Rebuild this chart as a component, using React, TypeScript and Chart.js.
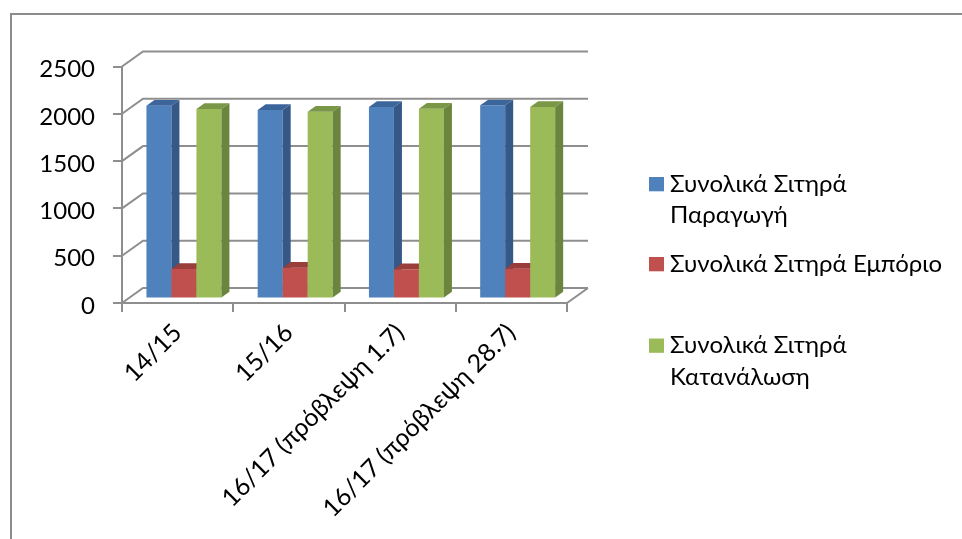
import React, { useEffect, useRef } from "react";
import { Chart, registerables } from "chart.js";

Chart.register(...registerables);

// ---- data ----
const categories = ["14/15", "15/16", "16/17 (πρόβλεψη 1.7)", "16/17 (πρόβλεψη 28.7)"];
const seriesNames = [
  "Συνολικά Σιτηρά Παραγωγή",
  "Συνολικά Σιτηρά Εμπόριο",
  "Συνολικά Σιτηρά Κατανάλωση",
];
const production = [2038, 1993, 2024, 2042];
const trade = [312, 326, 309, 315];
const consumption = [2003, 1975, 2006, 2024];
const yTicks = [0, 500, 1000, 1500, 2000, 2500];

// ---- style ----
const FRONT = ["#4F81BD", "#C0504D", "#9BBB59"];
const SIDE = ["#355887", "#8C3835", "#6B843E"];
const TOP = ["#3C659C", "#9A3E3B", "#7A9748"];
const FONT = "Lato, 'Noto Sans', sans-serif";
const FONT_SIZE = 24;
const GRID = "#8e8e8e";
const DEPTH_X = 21;
const DEPTH_Y = 15;
const BAR_Z0 = 0.3;
const BAR_DX = 8;
const BAR_DY = 5.7;

function wrapText(ctx: CanvasRenderingContext2D, text: string, maxWidth: number): string[] {
  const words = text.split(" ");
  const lines: string[] = [];
  let cur = "";
  for (const w of words) {
    const t = cur ? cur + " " + w : w;
    if (cur && ctx.measureText(t).width > maxWidth) {
      lines.push(cur);
      cur = w;
    } else cur = t;
  }
  if (cur) lines.push(cur);
  return lines;
}

const threeD = {
  id: "threeD",
  beforeDraw(chart: any) {
    const ctx = chart.ctx;
    ctx.save();
    ctx.fillStyle = "#ffffff";
    ctx.fillRect(0, 0, chart.width, chart.height);
    ctx.strokeStyle = "#8c8c8c";
    ctx.lineWidth = 2;
    ctx.strokeRect(11, 14, 2000, 2000);
    ctx.restore();
  },
  beforeDatasetsDraw(chart: any) {
    const ctx = chart.ctx;
    const { left, right, bottom } = chart.chartArea;
    const ys = chart.scales.y;
    ctx.save();
    ctx.strokeStyle = GRID;
    ctx.lineWidth = 2;
    ctx.beginPath();
    for (const v of yTicks) {
      const py = ys.getPixelForValue(v);
      ctx.moveTo(left, py);
      ctx.lineTo(left + DEPTH_X, py - DEPTH_Y);
      ctx.lineTo(right + DEPTH_X, py - DEPTH_Y);
    }
    ctx.moveTo(right, bottom);
    ctx.lineTo(right + DEPTH_X, bottom - DEPTH_Y);
    ctx.stroke();

    ctx.translate(DEPTH_X * BAR_Z0, -DEPTH_Y * BAR_Z0);
    const n = chart.data.labels.length;
    const nd = chart.data.datasets.length;
    for (let j = 0; j < n; j++) {
      for (let i = 0; i < nd; i++) {
        const el = chart.getDatasetMeta(i).data[j];
        const { x, y, base, width } = el.getProps(["x", "y", "base", "width"], true);
        const x0 = x - width / 2;
        const x1 = x + width / 2;
        el.draw(ctx);
        ctx.fillStyle = TOP[i];
        ctx.beginPath();
        ctx.moveTo(x0, y);
        ctx.lineTo(x1, y);
        ctx.lineTo(x1 + BAR_DX, y - BAR_DY);
        ctx.lineTo(x0 + BAR_DX, y - BAR_DY);
        ctx.closePath();
        ctx.fill();
        ctx.fillStyle = SIDE[i];
        ctx.beginPath();
        ctx.moveTo(x1, y);
        ctx.lineTo(x1 + BAR_DX, y - BAR_DY);
        ctx.lineTo(x1 + BAR_DX, base - BAR_DY);
        ctx.lineTo(x1, base);
        ctx.closePath();
        ctx.fill();
      }
    }
    ctx.restore();
    return false;
  },
  afterDraw(chart: any) {
    const ctx = chart.ctx;
    ctx.save();
    ctx.font = `${FONT_SIZE}px ${FONT}`;
    ctx.textBaseline = "alphabetic";
    ctx.textAlign = "left";
    const maxW = ctx.measureText(seriesNames[1]).width + 2;
    const tops = [177, 257, 338.5];
    const lineH = 31.7;
    chart.data.datasets.forEach((ds: any, i: number) => {
      const t = tops[i];
      ctx.fillStyle = FRONT[i];
      ctx.fillRect(649, t, 15, 14.3);
      ctx.fillStyle = "#000000";
      const lines = wrapText(ctx, ds.label, maxW);
      lines.forEach((ln, k) => ctx.fillText(ln, 670, t + 14.7 + k * lineH));
    });
    ctx.restore();
  },
};

export default function App() {
  const ref = useRef<HTMLCanvasElement>(null);
  useEffect(() => {
    if (!ref.current) return;
    const chart = new Chart(ref.current, {
      type: "bar",
      data: {
        labels: categories,
        datasets: [
          { label: seriesNames[0], data: production, backgroundColor: FRONT[0] },
          { label: seriesNames[1], data: trade, backgroundColor: FRONT[1] },
          { label: seriesNames[2], data: consumption, backgroundColor: FRONT[2] },
        ],
      },
      options: {
        responsive: false,
        animation: false,
        events: [],
        datasets: { bar: { categoryPercentage: 0.674, barPercentage: 1, borderWidth: 0 } },
        layout: { padding: { left: 0, top: 66.5, right: 395, bottom: 0 } },
        plugins: { legend: { display: false }, tooltip: { enabled: false } },
        scales: {
          x: {
            grid: { drawOnChartArea: false, drawTicks: true, tickLength: 9, color: GRID, lineWidth: 2, offset: true },
            border: { display: true, color: GRID, width: 2 },
            ticks: {
              minRotation: 45,
              maxRotation: 45,
              autoSkip: false,
              padding: 6,
              color: "#000000",
              font: { family: FONT, size: 25 },
            },
            afterFit: (s: any) => {
              s.height = 236;
            },
          },
          y: {
            min: 0,
            max: 2500,
            afterBuildTicks: (s: any) => {
              s.ticks = yTicks.map((v) => ({ value: v }));
            },
            grid: { drawOnChartArea: false, drawTicks: true, tickLength: 9, color: GRID, lineWidth: 2 },
            border: { display: true, color: GRID, width: 2 },
            ticks: {
              padding: 18,
              labelOffset: 3,
              color: "#000000",
              font: { family: FONT, size: FONT_SIZE },
              callback: (v: any) => String(v),
            },
            afterFit: (s: any) => {
              s.width = 122;
            },
          },
        },
      },
      plugins: [threeD],
    });
    return () => chart.destroy();
  }, []);
  return (
    <div style={{ position: "fixed", left: 0, top: 0, width: 962, height: 539, background: "#fff" }}>
      <canvas ref={ref} width={962} height={539} style={{ display: "block", width: 962, height: 539 }} />
    </div>
  );
}
